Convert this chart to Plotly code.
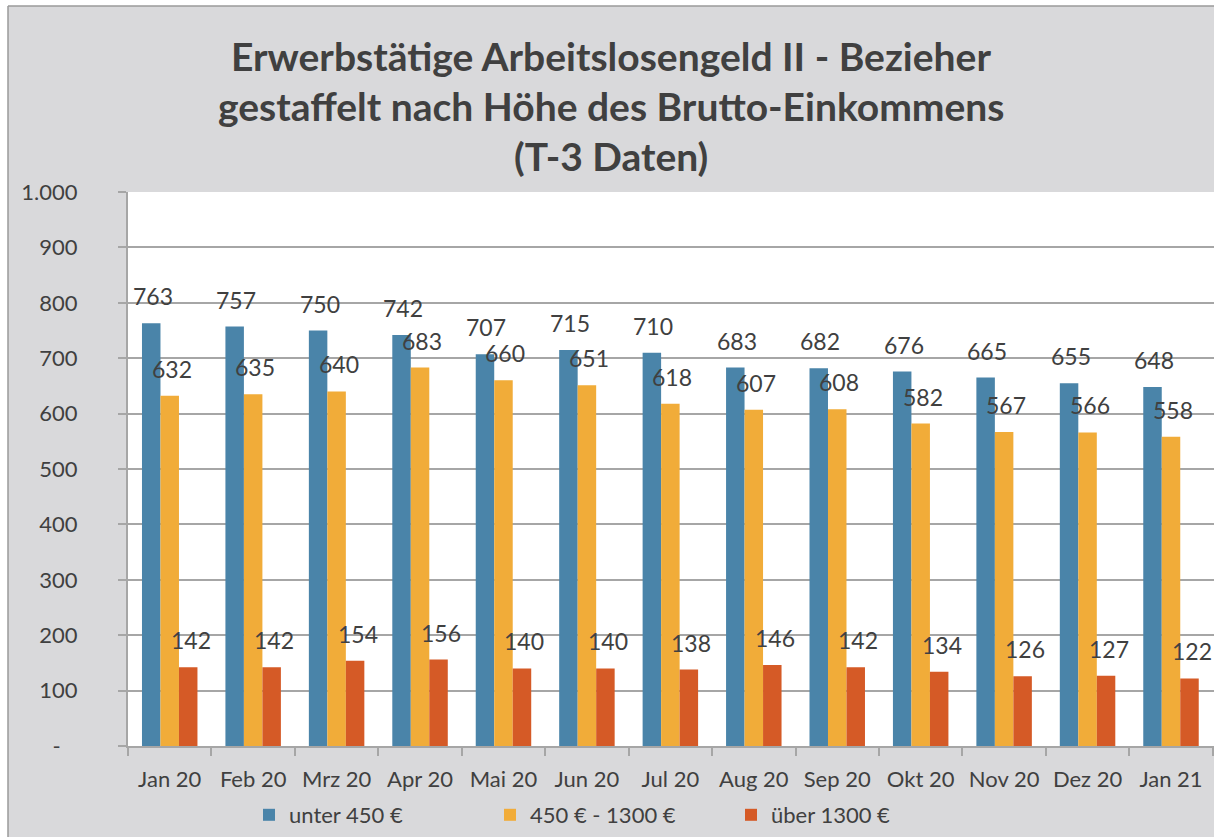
import plotly.graph_objects as go

months = ["Jan 20", "Feb 20", "Mrz 20", "Apr 20", "Mai 20", "Jun 20", "Jul 20",
          "Aug 20", "Sep 20", "Okt 20", "Nov 20", "Dez 20", "Jan 21"]
unter_450 = [763, 757, 750, 742, 707, 715, 710, 683, 682, 676, 665, 655, 648]
mittel_450_1300 = [632, 635, 640, 683, 660, 651, 618, 607, 608, 582, 567, 566, 558]
ueber_1300 = [142, 142, 154, 156, 140, 140, 138, 146, 142, 134, 126, 127, 122]

series_names = ["unter 450 €", "450 € - 1300 €", "über 1300 €"]
title_lines = ["Erwerbstätige Arbeitslosengeld II - Bezieher",
               "gestaffelt nach Höhe des Brutto-Einkommens",
               "(T-3 Daten)"]
colors = ["#4a84a9", "#f1ac39", "#d55a26"]
ytick_vals = [0, 100, 200, 300, 400, 500, 600, 700, 800, 900, 1000]
ytick_text = ["-\u00a0\u00a0\u00a0", "100", "200", "300", "400", "500", "600", "700", "800", "900", "1.000"]

FONT = "Lato, 'Open Sans', sans-serif"
TXT = "#404040"
GRID = "#a6a6a6"
BG = "#d9d9db"

fig = go.Figure()
all_series = [unter_450, mittel_450_1300, ueber_1300]
for name, vals, col in zip(series_names, all_series, colors):
    fig.add_trace(go.Bar(x=months, y=vals, name=name, marker_color=col,
                         marker_line_width=0))

L, R, T, B = 128, 0, 192, 91
W, H = 1214, 837
pw = W - L - R
ph = H - T - B

def px_x(px):
    return (px - L) / pw

def px_y(py):
    return (H - B - py) / ph

annotations = []
shifts = [-17, 2, 21]
for vals, sh in zip(all_series, shifts):
    for m, v in zip(months, vals):
        annotations.append(dict(x=m, y=v, xref="x", yref="y", text=str(v),
                                showarrow=False, xshift=sh, yshift=27,
                                font=dict(family=FONT, size=23, color=TXT)))

title_y = [56, 106, 156]
for line, ty in zip(title_lines, title_y):
    annotations.append(dict(x=px_x(W / 2 + 4), y=px_y(ty), xref="paper", yref="paper",
                            text=line, showarrow=False, xanchor="center", yanchor="middle",
                            font=dict(family=FONT, size=39, color=TXT, weight="bold")))

shapes = [
    dict(type="rect", xref="paper", yref="paper", x0=px_x(-5), x1=px_x(8),
         y0=px_y(H + 5), y1=px_y(-5), fillcolor="white", line_width=0, layer="below"),
    dict(type="rect", xref="paper", yref="paper", x0=px_x(-5), x1=px_x(W + 5),
         y0=px_y(6), y1=px_y(-5), fillcolor="white", line_width=0, layer="below"),
    dict(type="line", xref="paper", yref="paper", x0=px_x(8), x1=px_x(8),
         y0=px_y(H + 5), y1=px_y(6), line=dict(color="#9a9a9a", width=1.5)),
    dict(type="line", xref="paper", yref="paper", x0=px_x(8), x1=px_x(W + 5),
         y0=px_y(6), y1=px_y(6), line=dict(color="#9a9a9a", width=1.5)),
]

fig.update_layout(
    width=W, height=H,
    margin=dict(l=L, r=R, t=T, b=B, pad=0),
    paper_bgcolor=BG,
    plot_bgcolor="white",
    barmode="group",
    bargap=0.335,
    bargroupgap=0,
    font=dict(family=FONT, color=TXT),
    legend=dict(orientation="h", x=px_x(249), xanchor="left",
                y=px_y(815), yanchor="middle",
                font=dict(family=FONT, size=22, color=TXT),
                bgcolor="rgba(0,0,0,0)", itemwidth=30,
                entrywidth=196, entrywidthmode="pixels",
                traceorder="normal"),
    annotations=annotations,
    shapes=shapes,
    showlegend=True,
)

fig.update_yaxes(range=[0, 1000], tickvals=ytick_vals, ticktext=ytick_text,
                 showgrid=True, gridcolor=GRID, gridwidth=2,
                 showline=True, linecolor=GRID, linewidth=2,
                 ticks="outside", ticklen=8, tickcolor=GRID, tickwidth=2,
                 ticklabelstandoff=36,
                 tickfont=dict(family=FONT, size=22, color=TXT),
                 zeroline=False, fixedrange=True)
fig.update_xaxes(showline=True, linecolor=GRID, linewidth=2,
                 ticks="outside", ticklen=8, tickcolor=GRID, tickwidth=2,
                 tickson="boundaries", ticklabelstandoff=13,
                 tickfont=dict(family=FONT, size=22, color=TXT),
                 showgrid=False, fixedrange=True)

fig.write_html("out.html", config={"displayModeBar": False},
               post_script="document.body.style.margin='0';document.body.style.padding='0';document.body.style.overflow='hidden';")
